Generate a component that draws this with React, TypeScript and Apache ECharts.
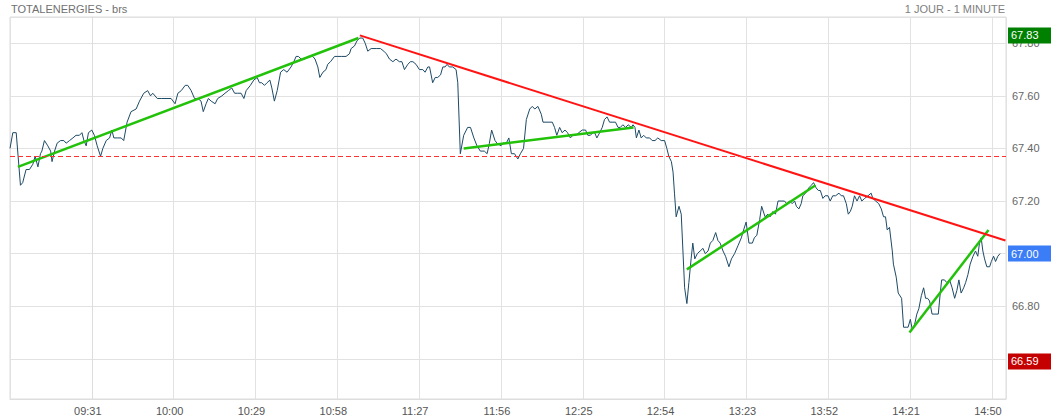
import React, { useEffect, useRef } from "react";
import * as echarts from "echarts";

const chartTitle = "TOTALENERGIES - brs";
const periodLabel = "1 JOUR - 1 MINUTE";

// x = minutes after 09:31, y = price
const morning: [number, number][] = [
  [-29, 67.40], [-28, 67.46], [-26.8, 67.46], [-25.3, 67.26], [-24.5, 67.27], [-23.3, 67.32], [-22.1, 67.32],
  [-20.9, 67.34], [-20.1, 67.37], [-19.1, 67.33], [-18.2, 67.38], [-17.7, 67.39], [-16.8, 67.43], [-15.6, 67.41],
  [-14.6, 67.39], [-14.1, 67.35], [-13.2, 67.39], [-12.3, 67.42], [-11.1, 67.43], [-9.9, 67.43], [-9.1, 67.42],
  [-7.9, 67.43], [-6.7, 67.44], [-5.6, 67.45], [-4.4, 67.45], [-3.5, 67.46], [-2.8, 67.43], [-2.0, 67.41],
  [-1.2, 67.46], [0, 67.47], [0.9, 67.45], [1.9, 67.41], [3.1, 67.37], [3.9, 67.40], [5.1, 67.43], [6.3, 67.44],
  [7.1, 67.47], [7.8, 67.44], [9.2, 67.44], [10.4, 67.44], [11.3, 67.43], [12.5, 67.50], [13.9, 67.54],
  [15.7, 67.55], [16.9, 67.58], [18.4, 67.61], [19.8, 67.62], [20.8, 67.60], [21.6, 67.61], [23.2, 67.59],
  [24.6, 67.59], [26.3, 67.59], [28.1, 67.59], [29.5, 67.57], [30.5, 67.61], [31.7, 67.62], [33.1, 67.64],
  [34.0, 67.64], [35.2, 67.62], [36.4, 67.59], [37.6, 67.59], [38.7, 67.58], [39.5, 67.54], [40.5, 67.57],
  [41.3, 67.59], [42.3, 67.58], [43.7, 67.57], [44.6, 67.59], [46.1, 67.60], [47.2, 67.61], [48.4, 67.62],
  [49.6, 67.63], [50.6, 67.61], [51.7, 67.61], [52.9, 67.61], [53.9, 67.59], [54.7, 67.62], [56.2, 67.64],
  [57.4, 67.66], [58.6, 67.67], [59.4, 67.65], [60.2, 67.65], [61.2, 67.64], [62.1, 67.65], [63.1, 67.66],
  [63.8, 67.63], [64.7, 67.58], [65.7, 67.62], [66.9, 67.69], [68.0, 67.70], [69.2, 67.69], [70.6, 67.71],
  [71.6, 67.73], [72.4, 67.75], [73.2, 67.75], [74.2, 67.74], [75.4, 67.74], [76.8, 67.75], [78.3, 67.75],
  [79.1, 67.74], [80.1, 67.71], [80.8, 67.67], [81.9, 67.69], [83.0, 67.70], [83.6, 67.72], [84.6, 67.73],
  [86.0, 67.75], [87.2, 67.75], [88.4, 67.75], [90.1, 67.75], [91.3, 67.76], [91.9, 67.78], [93.1, 67.79],
  [94.0, 67.81], [95.0, 67.82], [96.0, 67.82], [96.9, 67.80], [97.8, 67.77], [99.0, 67.78], [100.8, 67.78],
  [102.3, 67.78], [103.5, 67.77], [104.4, 67.76], [105.5, 67.74], [106.7, 67.73], [107.8, 67.74], [109.0, 67.73],
  [109.9, 67.73], [110.8, 67.70], [112.0, 67.72], [112.9, 67.73], [113.8, 67.73], [114.9, 67.72], [116.1, 67.70],
  [117.3, 67.70], [118.1, 67.69], [119.1, 67.71], [119.7, 67.71], [120.8, 67.65], [121.7, 67.67], [122.6, 67.67],
  [123.6, 67.68], [124.4, 67.71], [125.2, 67.71], [125.9, 67.72], [126.7, 67.71], [127.9, 67.71], [129.1, 67.70],
  [129.7, 67.65], [130.6, 67.38], [131.8, 67.45], [133.2, 67.48], [134.2, 67.48], [135.4, 67.44], [136.5, 67.41],
  [137.7, 67.39], [139.1, 67.39], [140.1, 67.38], [140.9, 67.42], [141.7, 67.47], [142.9, 67.43], [143.6, 67.42],
  [145.0, 67.41],
];

const afternoon: [number, number][] = [
  [145.7, 67.42], [146.9, 67.42], [147.8, 67.44], [148.7, 67.38], [149.8, 67.38], [151.0, 67.36], [151.9, 67.38],
  [153.0, 67.40], [154.0, 67.51], [155.2, 67.55], [156.1, 67.56], [157.0, 67.55], [158.1, 67.56], [159.3, 67.53],
  [159.9, 67.50], [161.7, 67.50], [163.2, 67.50], [164.0, 67.48], [164.8, 67.45], [165.8, 67.48], [166.7, 67.46],
  [167.7, 67.47], [168.6, 67.46], [169.6, 67.44], [170.5, 67.45], [171.5, 67.45], [172.6, 67.46], [173.8, 67.47],
  [175.0, 67.47], [175.8, 67.45], [176.7, 67.45], [177.6, 67.46], [178.2, 67.46], [179.0, 67.44], [180.0, 67.46],
  [180.9, 67.48], [181.7, 67.51], [182.6, 67.52], [183.5, 67.50], [184.7, 67.50], [185.6, 67.50], [186.5, 67.48],
  [187.3, 67.48], [188.2, 67.49], [189.2, 67.48], [190.1, 67.49], [191.2, 67.48], [191.8, 67.49], [192.5, 67.48],
  [193.0, 67.44], [193.9, 67.47], [194.7, 67.44], [195.6, 67.45], [196.5, 67.44], [197.7, 67.44], [198.6, 67.43],
  [199.6, 67.43], [200.6, 67.44], [201.8, 67.43], [203.0, 67.43], [203.8, 67.40], [204.5, 67.37], [205.4, 67.35],
  [206.0, 67.31], [206.5, 67.23], [207.1, 67.14], [208.1, 67.18], [208.9, 67.15], [209.5, 67.01], [210.1, 66.87],
  [210.9, 66.81], [211.6, 66.89], [212.4, 66.98], [213.0, 67.04], [213.7, 66.98], [214.6, 67.00], [215.6, 67.01],
  [216.6, 67.02], [217.4, 67.00], [218.4, 67.01], [219.2, 67.04], [220.1, 67.05], [221.1, 67.08], [221.9, 67.05],
  [222.7, 67.04], [223.7, 67.01], [224.6, 66.99], [225.8, 66.95], [226.7, 66.98], [227.8, 67.00], [229.0, 67.03],
  [230.2, 67.06], [231.0, 67.09], [231.9, 67.12], [232.9, 67.04], [234.1, 67.04], [234.8, 67.06], [235.7, 67.07],
  [236.7, 67.13], [237.4, 67.18], [238.6, 67.14], [239.6, 67.15], [240.4, 67.14], [241.4, 67.16], [242.3, 67.15],
  [243.2, 67.20], [244.3, 67.20], [245.5, 67.20], [246.3, 67.19], [247.3, 67.20], [248.2, 67.19], [249.1, 67.20],
  [249.7, 67.18], [250.6, 67.17], [251.4, 67.19], [252.0, 67.22], [253.0, 67.23], [254.1, 67.25], [255.0, 67.26],
  [255.8, 67.27], [256.7, 67.25], [257.5, 67.24], [258.2, 67.24], [259.1, 67.21], [259.9, 67.22], [260.9, 67.22],
  [261.7, 67.20], [262.6, 67.22], [263.6, 67.22], [264.8, 67.23], [265.6, 67.22], [266.4, 67.22], [267.4, 67.19],
  [268.1, 67.15], [268.8, 67.16], [269.5, 67.18], [270.3, 67.22], [271.2, 67.20], [272.1, 67.22], [272.9, 67.20],
  [273.9, 67.21], [275.1, 67.22], [276.2, 67.23], [276.8, 67.21], [277.8, 67.20], [278.9, 67.19], [279.8, 67.17],
  [280.6, 67.14], [281.3, 67.14], [281.9, 67.09], [282.7, 67.10], [283.7, 67.01], [284.1, 66.96], [285.1, 66.91],
  [285.8, 66.85], [287.0, 66.83], [287.7, 66.72], [288.6, 66.72], [289.3, 66.72], [290.1, 66.75], [290.8, 66.71],
  [291.6, 66.73], [292.4, 66.77], [293.1, 66.79], [294.0, 66.84], [294.8, 66.87], [295.5, 66.83], [296.2, 66.83],
  [296.9, 66.82], [297.8, 66.77], [298.8, 66.77], [300.0, 66.77], [300.7, 66.85], [301.2, 66.90], [302.2, 66.90],
  [303.0, 66.89], [304.0, 66.90], [304.9, 66.87], [305.8, 66.83], [306.6, 66.86], [307.3, 66.90], [308.1, 66.85],
  [309.0, 66.87], [309.7, 66.89], [310.5, 66.92], [311.3, 66.96], [312.3, 66.99], [313.2, 67.01], [314.0, 66.99],
  [314.6, 67.04], [315.2, 67.06], [315.8, 67.01], [316.4, 66.98], [317.2, 66.95], [318.2, 66.95], [318.8, 66.97],
  [319.6, 66.99], [320.3, 66.97], [321.1, 66.99], [321.9, 67.00],
];

// trend lines drawn on the chart
const greenTrends: [number, number][][] = [
  [[-26.2, 67.33], [94.5, 67.82]],
  [[131.8, 67.40], [192.0, 67.48]],
  [[210.9, 66.94], [256.5, 67.26]],
  [[289.8, 66.70], [317.8, 67.09]],
];
const redTrend: [number, number][] = [[95.0, 67.83], [323.8, 67.05]];

const prevClose = 67.37;
const dayHigh = 67.83;
const lastPrice = 67.0;
const dayLow = 66.59;

const xMin = -29; // 09:02
const xMax = 324; // 14:55
const xStep = 29;
const yMin = 66.447;
const yMax = 67.9;
const baseMinute = 9 * 60 + 31;

const FONT = 'Arial, "Liberation Sans", sans-serif';

function fmtTime(v: number): string {
  const t = Math.round(baseMinute + v);
  const h = Math.floor(t / 60);
  const m = t % 60;
  return String(h).padStart(2, "0") + ":" + String(m).padStart(2, "0");
}

function badge(value: number, color: string) {
  return {
    yAxis: value,
    lineStyle: { color: "rgba(0,0,0,0)", width: 0 },
    label: {
      show: true,
      position: "end",
      distance: 2,
      formatter: value.toFixed(2),
      color: "#ffffff",
      fontSize: 11,
      fontFamily: FONT,
      backgroundColor: color,
      lineHeight: 13,
      padding: [2, 13, 1, 3],
      align: "left",
    },
  };
}

export default function App() {
  const ref = useRef<HTMLDivElement>(null);
  useEffect(() => {
    if (!ref.current) return;
    const chart = echarts.init(ref.current, undefined, { renderer: "svg" });
    const full = [...morning, ...afternoon];
    chart.setOption({
      animation: false,
      textStyle: { fontFamily: FONT },
      title: [
        {
          text: chartTitle,
          left: 11,
          top: 3,
          padding: 0,
          textStyle: { fontSize: 11, fontWeight: "normal", color: "#707070", fontFamily: FONT },
        },
        {
          text: periodLabel,
          right: 46,
          top: 3,
          padding: 0,
          textStyle: { fontSize: 11, fontWeight: "normal", color: "#808080", fontFamily: FONT },
        },
      ],
      grid: {
        left: 10,
        right: 45,
        top: 17,
        bottom: 21,
        show: true,
        borderColor: "#dddddd",
        borderWidth: 1,
      },
      xAxis: {
        type: "value",
        min: xMin,
        max: xMax,
        interval: xStep,
        axisLine: { show: true, lineStyle: { color: "#dddddd" } },
        axisTick: { show: false },
        splitLine: { show: true, lineStyle: { color: "#e2e2e2", width: 1 } },
        axisLabel: {
          color: "#555555",
          fontSize: 11,
          fontFamily: FONT,
          margin: 6,
          padding: [0, 8, 0, 0],
          showMinLabel: false,
          showMaxLabel: false,
          formatter: (v: number) => (v <= xMin || v > 319 ? "" : fmtTime(v)),
        },
      },
      yAxis: {
        type: "value",
        position: "right",
        min: yMin,
        max: yMax,
        splitNumber: 7,
        scale: true,
        axisLine: { show: true, lineStyle: { color: "#dddddd" } },
        axisTick: { show: false },
        splitLine: { show: true, lineStyle: { color: "#e2e2e2", width: 1 } },
        axisLabel: {
          color: "#666666",
          fontSize: 11,
          fontFamily: FONT,
          margin: 6,
          showMinLabel: false,
          showMaxLabel: false,
          formatter: (v: number) =>
            Math.abs(v * 5 - Math.round(v * 5)) > 1e-6 ? "" : v.toFixed(2),
        },
      },
      series: [
        {
          type: "line",
          data: full,
          showSymbol: false,
          symbol: "none",
          silent: true,
          z: 2,
          lineStyle: { color: "#1d4a66", width: 1 },
          markLine: {
            silent: true,
            symbol: ["none", "none"],
            animation: false,
            data: [
              {
                yAxis: prevClose,
                lineStyle: { color: "#ff3030", width: 1, type: [5, 3] },
                label: { show: false },
              },
              badge(dayHigh, "#008000"),
              badge(lastPrice, "#3b7cf7"),
              badge(dayLow, "#c40000"),
            ],
          },
        },
        ...greenTrends.map((seg) => ({
          type: "line",
          data: seg,
          showSymbol: false,
          symbol: "none",
          silent: true,
          z: 4,
          lineStyle: { color: "#22c10a", width: 2.5 },
        })),
        {
          type: "line",
          data: redTrend,
          showSymbol: false,
          symbol: "none",
          silent: true,
          z: 4,
          lineStyle: { color: "#ff1414", width: 2 },
        },
      ],
    });
    return () => chart.dispose();
  }, []);
  return (
    <div
      ref={ref}
      style={{ position: "absolute", left: 0, top: 0, width: 1051, height: 420, background: "#ffffff" }}
    />
  );
}
